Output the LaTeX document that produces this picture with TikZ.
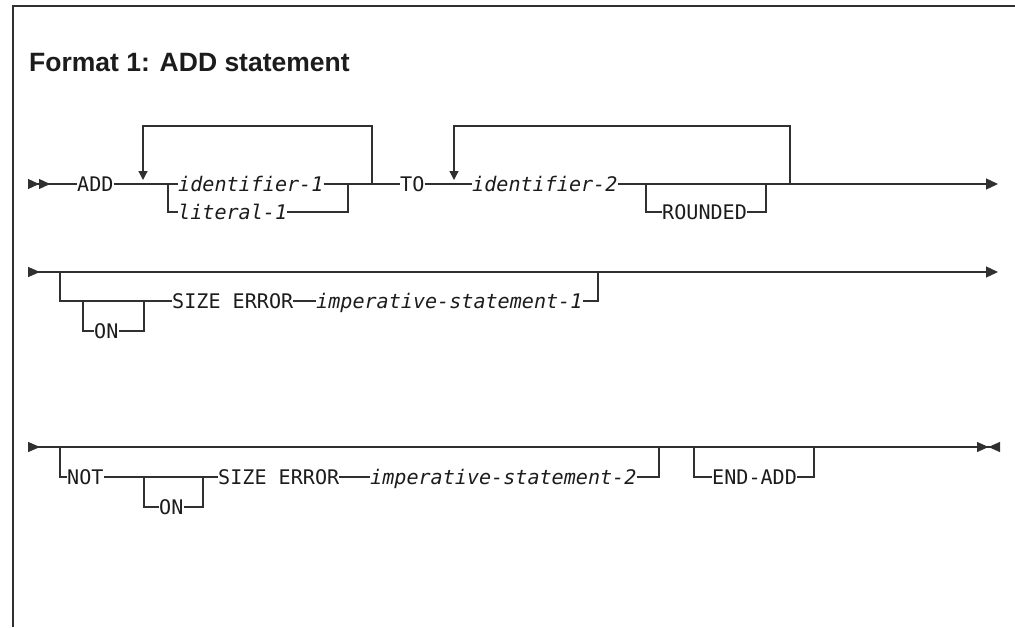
\documentclass[tikz,border=0pt]{standalone}
\usepackage{fontspec}
\usetikzlibrary{arrows.meta,positioning}
\newfontfamily\railfont{DejaVu Sans Mono}
\newfontfamily\headfont{Liberation Sans}
\definecolor{Rail}{HTML}{303030}
\definecolor{Ink}{HTML}{1C1C1C}

\begin{document}
\begin{tikzpicture}[x=1pt,y=-1pt,
    kw/.style={inner sep=0pt,anchor=west,text=Ink,font=\railfont\fontsize{20.1}{24}\selectfont,text height=14.6pt,text depth=0pt},
    var/.style={kw,font=\railfont\itshape\fontsize{20.1}{24}\selectfont},
    head/.style={inner sep=0pt,anchor=base west,text=Ink,font=\headfont\bfseries\fontsize{26.5}{30}\selectfont},
    rail/.style={line width=1.3pt,draw=Rail},
    frame/.style={line width=1.8pt,draw=Rail},
    arrow/.style={rail,-{Triangle[length=12pt,width=11pt]}},
    looparrow/.style={rail,-{Triangle[length=9pt,width=9pt]}},
    startone/.style={rail,{Triangle[reversed,length=12pt,width=10pt]}-{Triangle[length=12pt,width=11pt]}},
    starttwo/.style={rail,{Triangle[reversed,length=11pt,width=10pt]Triangle[reversed,length=11pt,width=10pt]}-},
    stopmark/.style={rail,{Triangle[reversed,length=12pt,width=10pt]}-{Triangle[length=11.5pt,width=10pt]Triangle[reversed,length=11.5pt,width=10pt]}}
  ]
    \useasboundingbox (0,0) rectangle (1015,627);
    \draw[frame] (1015,6) -| (13,627);
    \node[head] (title) at (29,71) {Format 1: ADD statement};

    % first line
    \coordinate (s1) at (28,184);
    \coordinate (e1) at (998,184);
    \node[kw] (add) at (77,184) {ADD};
    \node[var] (id1) at (178,184) {identifier-1};
    \node[var] (lit1) at (178,212) {literal-1};
    \node[kw] (to) at (400,184) {TO};
    \node[var] (id2) at (472,184) {identifier-2};
    \node[kw] (rnd) at (662,212) {ROUNDED};
    \coordinate (c1a) at (168,184);
    \coordinate (c1b) at (348,184);
    \coordinate (r1a) at (143,180);
    \coordinate (r1b) at (372,184);
    \coordinate (r2a) at (454,180);
    \coordinate (r2b) at (790,184);
    \coordinate (o1a) at (646,184);
    \coordinate (o1b) at (766,184);
    \draw[starttwo] (s1) -- (add);
    \draw[rail] (add) -- (id1);
    \draw[rail] (id1) -- (to);
    \draw[rail] (to) -- (id2);
    \draw[arrow] (id2) -- (e1);
    \draw[rail] (c1a) |- (lit1);
    \draw[rail] (lit1) -| (c1b);
    \draw[looparrow] (r1b) -- ++(0,-58) -| (r1a);
    \draw[looparrow] (r2b) -- ++(0,-58) -| (r2a);
    \draw[rail] (o1a) |- (rnd);
    \draw[rail] (rnd) -| (o1b);

    % second line
    \coordinate (s2) at (28,272);
    \coordinate (e2) at (998,272);
    \node[kw] (on1) at (94,331) {ON};
    \node[kw] (sz1) at (172,301) {SIZE ERROR};
    \node[var] (imp1) at (316,301) {imperative-statement-1};
    \coordinate (o2a) at (60,272);
    \coordinate (o2b) at (598,272);
    \coordinate (o3a) at (83,301);
    \coordinate (o3b) at (144,301);
    \draw[startone] (s2) -- (e2);
    \draw[rail] (o2a) |- (sz1);
    \draw[rail] (sz1) -- (imp1);
    \draw[rail] (imp1) -| (o2b);
    \draw[rail] (o3a) |- (on1);
    \draw[rail] (on1) -| (o3b);

    % third line
    \coordinate (s3) at (28,447);
    \coordinate (e3) at (1000,447);
    \node[kw] (not) at (67,477) {NOT};
    \node[kw] (on2) at (159,507) {ON};
    \node[kw] (sz2) at (218,477) {SIZE ERROR};
    \node[var] (imp2) at (370,477) {imperative-statement-2};
    \node[kw] (endadd) at (712,477) {END-ADD};
    \coordinate (o4a) at (60,447);
    \coordinate (o4b) at (659,447);
    \coordinate (o5a) at (144,477);
    \coordinate (o5b) at (203,477);
    \coordinate (o6a) at (694,447);
    \coordinate (o6b) at (814,447);
    \draw[stopmark] (s3) -- (e3);
    \draw[rail] (o4a) |- (not);
    \draw[rail] (not) -- (sz2);
    \draw[rail] (sz2) -- (imp2);
    \draw[rail] (imp2) -| (o4b);
    \draw[rail] (o5a) |- (on2);
    \draw[rail] (on2) -| (o5b);
    \draw[rail] (o6a) |- (endadd);
    \draw[rail] (endadd) -| (o6b);
  \end{tikzpicture}
\end{document}
